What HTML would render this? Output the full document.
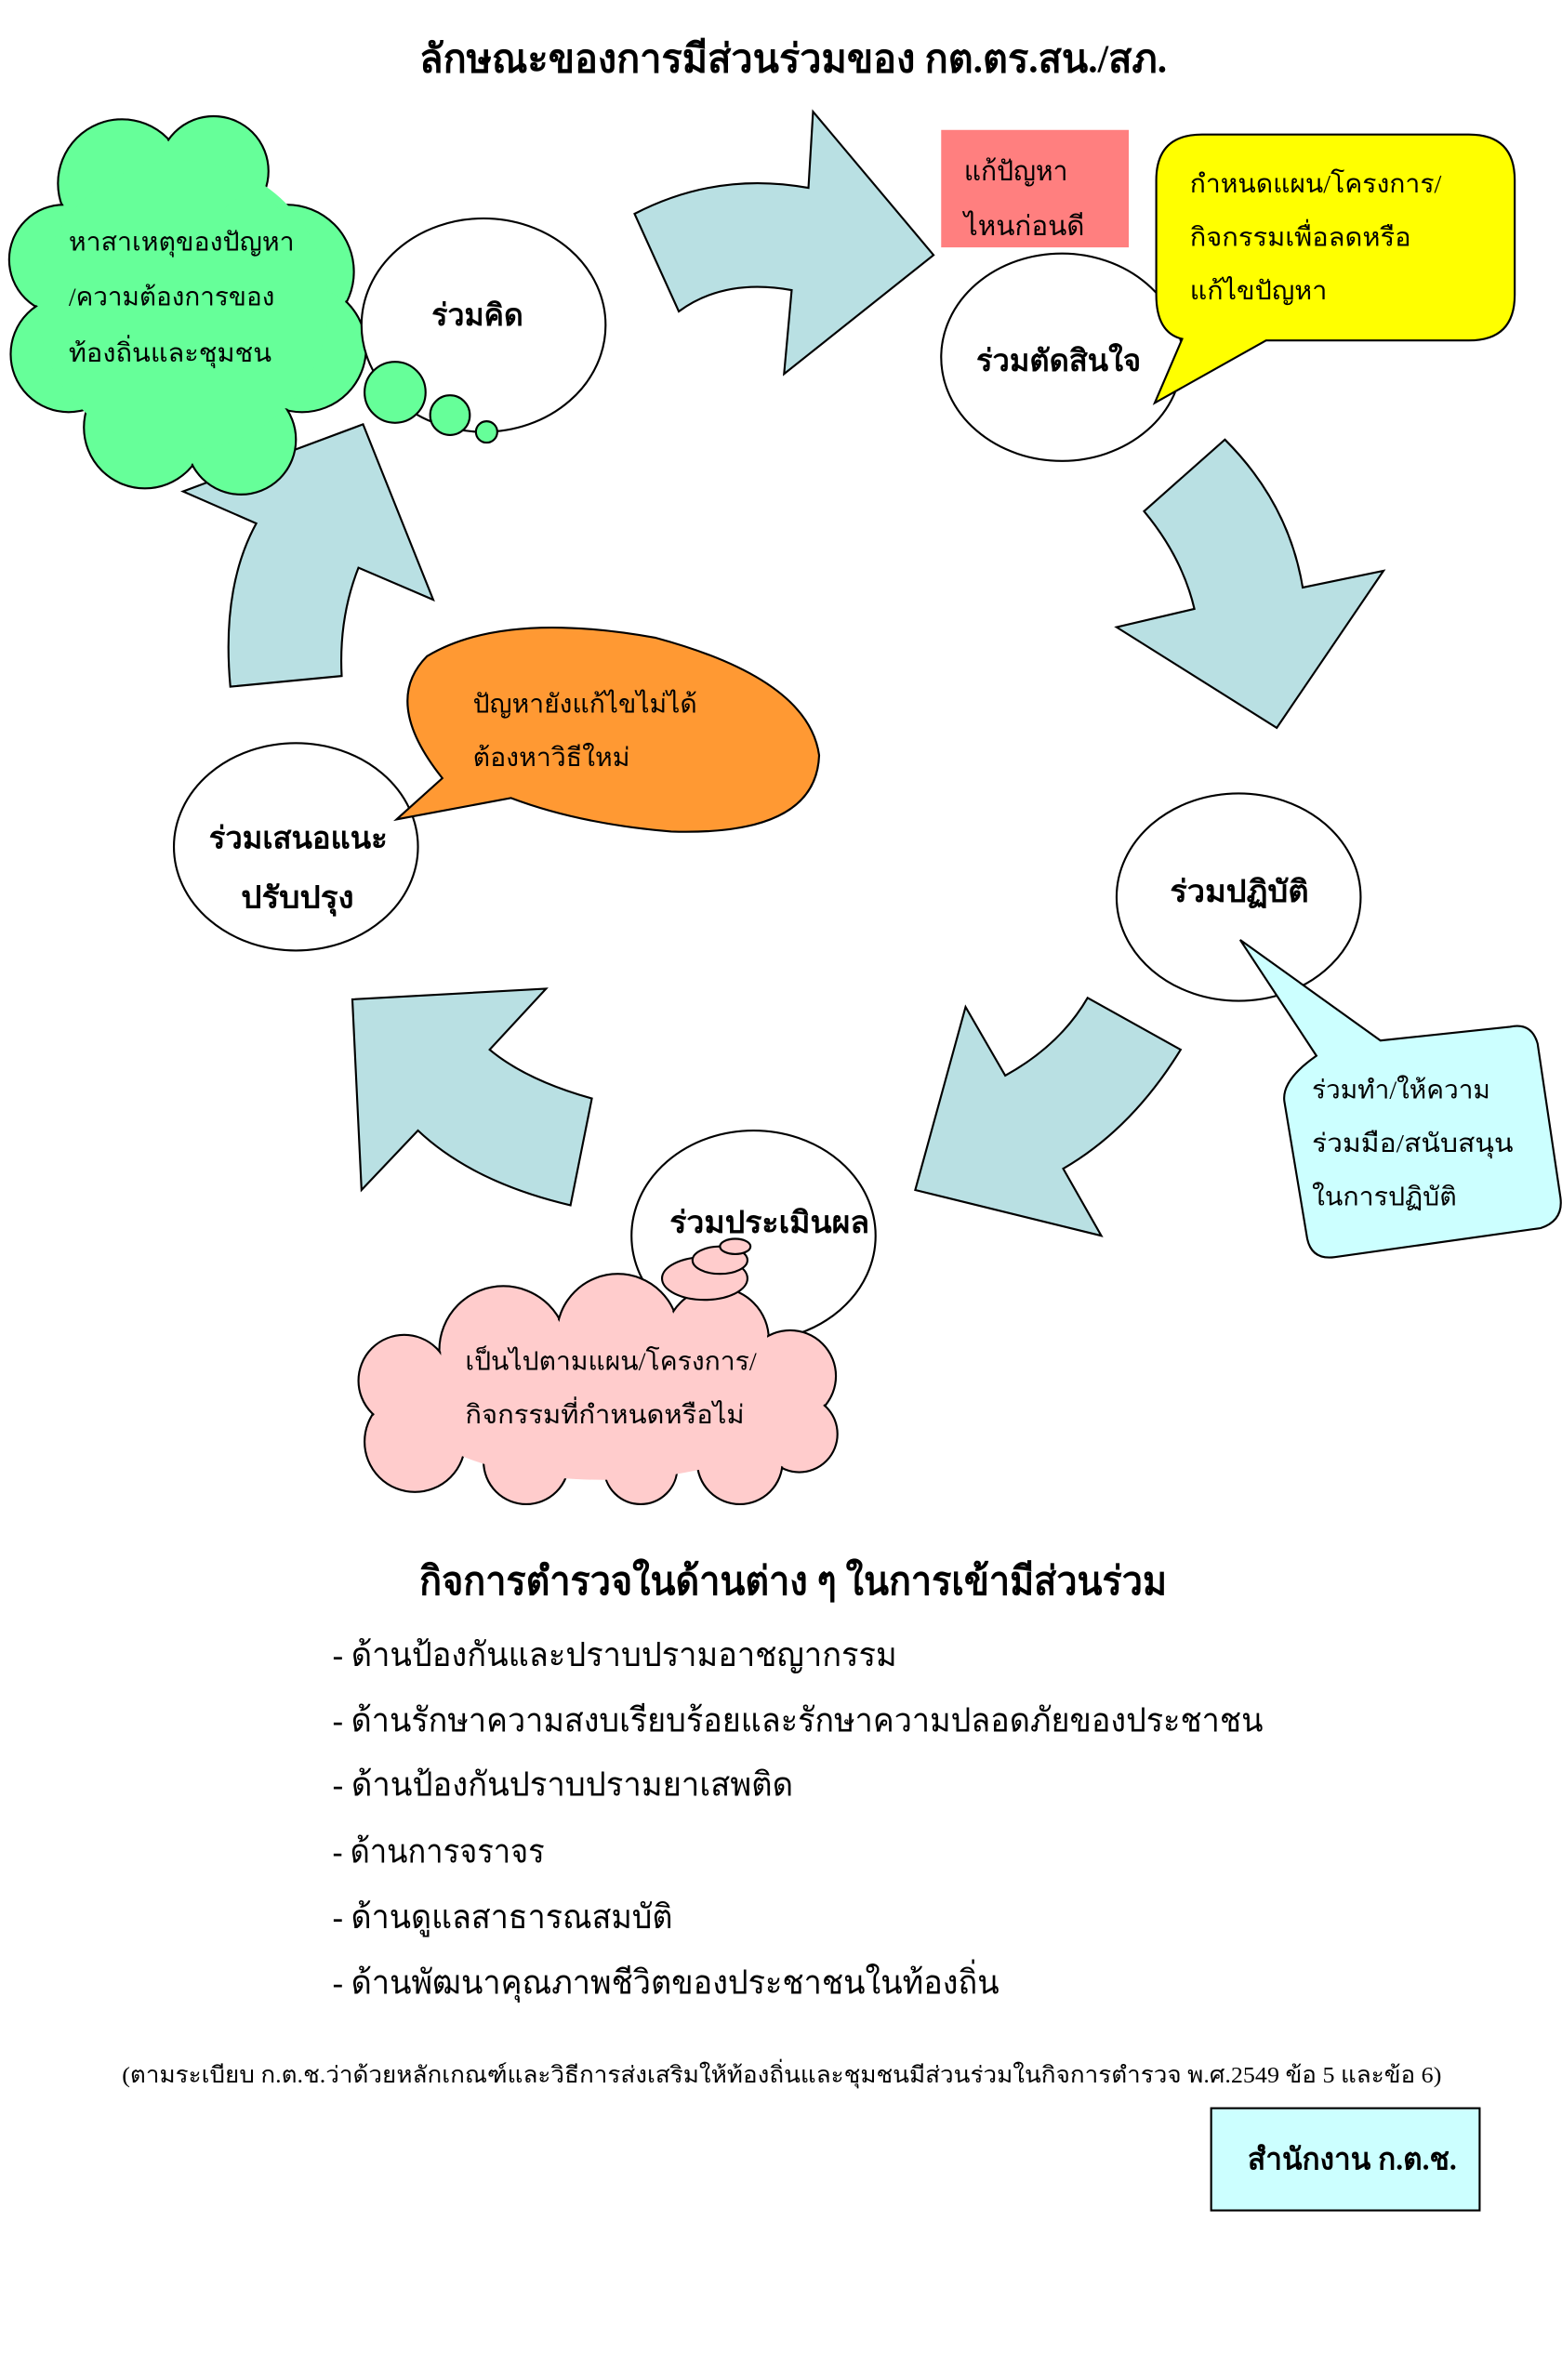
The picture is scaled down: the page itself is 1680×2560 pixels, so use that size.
<!DOCTYPE html>
<html><head><meta charset="utf-8"><style>
html,body{margin:0;padding:0;background:#fff}
svg{display:block}
text{font-family:"Liberation Serif","DejaVu Sans",serif;fill:#000}
.b{font-weight:bold}
</style></head><body>
<svg width="1680" height="2560" viewBox="0 0 1024 1560" xmlns="http://www.w3.org/2000/svg">
<g stroke="#000" stroke-width="1.3">
<path fill="#B9E0E3" d="M416,140 Q470,112 530,123 L533,73 L612,167 L514,245 L519,190 Q475,182 445,204 Z"/>
<path fill="#B9E0E3" d="M750,335 L803,288 Q845,330 854,385 L907,374 L837,477 L732,411 L783,399 Q775,365 750,335 Z"/>
<path fill="#B9E0E3" d="M659,705 Q695,685 713,654 L774,688 Q742,740 697,766 L722,810 L600,780 L633,660 Z"/>
<path fill="#B9E0E3" d="M231,655 L358,648 L321,688 Q345,708 388,720 L374,790 Q310,775 274,741 L237,780 Z"/>
<path fill="#B9E0E3" d="M151,450 Q145,385 168,343 L120,322 L238,278 L284,393 L235,372 Q222,405 224,443 Z"/>

<g fill="#66FF99">
<circle cx="80" cy="120" r="42"/><circle cx="140" cy="112" r="36"/><circle cx="42" cy="170" r="36"/>
<circle cx="188" cy="178" r="44"/><circle cx="45" cy="232" r="38"/><circle cx="198" cy="228" r="42"/>
<circle cx="95" cy="280" r="40"/><circle cx="158" cy="288" r="36"/>
</g>
<g fill="#66FF99" stroke="none">
<circle cx="80" cy="120" r="41"/><circle cx="140" cy="112" r="35"/><circle cx="42" cy="170" r="35"/>
<circle cx="188" cy="178" r="43"/><circle cx="45" cy="232" r="37"/><circle cx="198" cy="228" r="41"/>
<circle cx="95" cy="280" r="39"/><circle cx="158" cy="288" r="35"/><ellipse cx="120" cy="200" rx="95" ry="95"/>
<circle cx="165" cy="150" r="22"/>
</g>

<ellipse cx="317" cy="213" rx="80" ry="70" fill="#fff"/>
<circle cx="259" cy="257" r="20" fill="#66FF99"/>
<circle cx="295" cy="272" r="13" fill="#66FF99"/>
<circle cx="319" cy="283" r="7" fill="#66FF99"/>
<ellipse cx="696" cy="234" rx="79" ry="68" fill="#fff"/>
<ellipse cx="812" cy="588" rx="80" ry="68" fill="#fff"/>
<ellipse cx="494" cy="810" rx="80" ry="69" fill="#fff"/>
<ellipse cx="194" cy="555" rx="80" ry="68" fill="#fff"/>

<rect x="617" y="85" width="123" height="77" fill="#FF7F7F" stroke="none"/>

<path fill="#FFFF00" d="M788,88 L963,88 Q993,88 993,118 L993,193 Q993,223 963,223 L830,223 L757,264 L775,222 Q758,218 758,193 L758,118 Q758,88 788,88 Z"/>

<path fill="#FF9933" d="M260,537 L290,510 Q250,460 280,430 Q330,400 430,418 Q530,445 537,495 Q535,548 440,545 Q380,540 335,523 Z"/>

<path fill="#CCFFFF" d="M813,616 L905,682 L990,673 Q1004,670 1008,684 L1023,785 Q1025,800 1010,805 L875,824 Q860,826 857,812 L842,722 Q840,708 863,692 Z"/>

<g fill="#FFCCCC">
<circle cx="330" cy="885" r="42"/><circle cx="405" cy="875" r="40"/><circle cx="470" cy="878" r="34"/>
<circle cx="518" cy="902" r="30"/><circle cx="524" cy="940" r="25"/><circle cx="485" cy="958" r="28"/>
<circle cx="420" cy="962" r="24"/><circle cx="345" cy="958" r="28"/><circle cx="272" cy="945" r="33"/><circle cx="265" cy="905" r="30"/>
</g>
<g fill="#FFCCCC" stroke="none">
<circle cx="330" cy="885" r="41"/><circle cx="405" cy="875" r="39"/><circle cx="470" cy="878" r="33"/>
<circle cx="518" cy="902" r="29"/><circle cx="524" cy="940" r="24"/><circle cx="485" cy="958" r="27"/>
<circle cx="420" cy="962" r="23"/><circle cx="345" cy="958" r="27"/><circle cx="272" cy="945" r="32"/><circle cx="265" cy="905" r="29"/>
<ellipse cx="395" cy="922" rx="125" ry="48"/>
</g>
<ellipse cx="462" cy="838" rx="28" ry="14" fill="#FFCCCC"/>
<ellipse cx="472" cy="826" rx="18" ry="9" fill="#FFCCCC"/>
<ellipse cx="482" cy="817" rx="10" ry="5" fill="#FFCCCC"/>

<rect x="794" y="1382" width="176" height="67" fill="#CCFFFF"/>
</g>

<g>
<text class="b" x="275" y="47" font-size="26" textLength="490" lengthAdjust="spacingAndGlyphs">ลักษณะของการมีส่วนร่วมของ กต.ตร.สน./สภ.</text>

<text x="45" y="164" font-size="17" textLength="148" lengthAdjust="spacingAndGlyphs">หาสาเหตุของปัญหา</text>
<text x="45" y="200" font-size="17" textLength="135" lengthAdjust="spacingAndGlyphs">/ความต้องการของ</text>
<text x="45" y="237" font-size="17" textLength="133" lengthAdjust="spacingAndGlyphs">ท้องถิ่นและชุมชน</text>

<text class="b" x="283" y="213" font-size="20" textLength="60" lengthAdjust="spacingAndGlyphs">ร่วมคิด</text>
<text class="b" x="640" y="243" font-size="20" textLength="108" lengthAdjust="spacingAndGlyphs">ร่วมตัดสินใจ</text>
<text class="b" x="767" y="591" font-size="20" textLength="91" lengthAdjust="spacingAndGlyphs">ร่วมปฏิบัติ</text>
<text class="b" x="439" y="808" font-size="20" textLength="131" lengthAdjust="spacingAndGlyphs">ร่วมประเมินผล</text>
<text class="b" x="137" y="556" font-size="20" textLength="117" lengthAdjust="spacingAndGlyphs">ร่วมเสนอแนะ</text>
<text class="b" x="158" y="595" font-size="20" textLength="74" lengthAdjust="spacingAndGlyphs">ปรับปรุง</text>

<text x="632" y="118" font-size="18" textLength="68" lengthAdjust="spacingAndGlyphs">แก้ปัญหา</text>
<text x="632" y="154" font-size="18" textLength="79" lengthAdjust="spacingAndGlyphs">ไหนก่อนดี</text>

<text x="780" y="126" font-size="17" textLength="165" lengthAdjust="spacingAndGlyphs">กำหนดแผน/โครงการ/</text>
<text x="780" y="161" font-size="17" textLength="145" lengthAdjust="spacingAndGlyphs">กิจกรรมเพื่อลดหรือ</text>
<text x="780" y="196" font-size="17" textLength="90" lengthAdjust="spacingAndGlyphs">แก้ไขปัญหา</text>

<text x="310" y="467" font-size="17" textLength="147" lengthAdjust="spacingAndGlyphs">ปัญหายังแก้ไขไม่ได้</text>
<text x="310" y="502" font-size="17" textLength="103" lengthAdjust="spacingAndGlyphs">ต้องหาวิธีใหม่</text>

<text x="860" y="720" font-size="17" textLength="117" lengthAdjust="spacingAndGlyphs">ร่วมทำ/ให้ความ</text>
<text x="860" y="755" font-size="17" textLength="132" lengthAdjust="spacingAndGlyphs">ร่วมมือ/สนับสนุน</text>
<text x="860" y="790" font-size="17" textLength="95" lengthAdjust="spacingAndGlyphs">ในการปฏิบัติ</text>

<text x="305" y="898" font-size="17" textLength="191" lengthAdjust="spacingAndGlyphs">เป็นไปตามแผน/โครงการ/</text>
<text x="305" y="933" font-size="17" textLength="183" lengthAdjust="spacingAndGlyphs">กิจกรรมที่กำหนดหรือไม่</text>

<text class="b" x="275" y="1045" font-size="26" textLength="490" lengthAdjust="spacingAndGlyphs">กิจการตำรวจในด้านต่าง ๆ ในการเข้ามีส่วนร่วม</text>
<text x="218" y="1092" font-size="22" textLength="370" lengthAdjust="spacingAndGlyphs">- ด้านป้องกันและปราบปรามอาชญากรรม</text>
<text x="218" y="1135" font-size="22" textLength="610" lengthAdjust="spacingAndGlyphs">- ด้านรักษาความสงบเรียบร้อยและรักษาความปลอดภัยของประชาชน</text>
<text x="218" y="1177" font-size="22" textLength="302" lengthAdjust="spacingAndGlyphs">- ด้านป้องกันปราบปรามยาเสพติด</text>
<text x="218" y="1221" font-size="22" textLength="139" lengthAdjust="spacingAndGlyphs">- ด้านการจราจร</text>
<text x="218" y="1264" font-size="22" textLength="223" lengthAdjust="spacingAndGlyphs">- ด้านดูแลสาธารณสมบัติ</text>
<text x="218" y="1307" font-size="22" textLength="437" lengthAdjust="spacingAndGlyphs">- ด้านพัฒนาคุณภาพชีวิตของประชาชนในท้องถิ่น</text>

<text x="80" y="1365" font-size="15" textLength="865" lengthAdjust="spacingAndGlyphs">(ตามระเบียบ ก.ต.ช.ว่าด้วยหลักเกณฑ์และวิธีการส่งเสริมให้ท้องถิ่นและชุมชนมีส่วนร่วมในกิจการตำรวจ พ.ศ.2549 ข้อ 5 และข้อ 6)</text>
<text class="b" x="818" y="1422" font-size="20" textLength="137" lengthAdjust="spacingAndGlyphs">สำนักงาน ก.ต.ช.</text>
</g>
</svg>
</body></html>
